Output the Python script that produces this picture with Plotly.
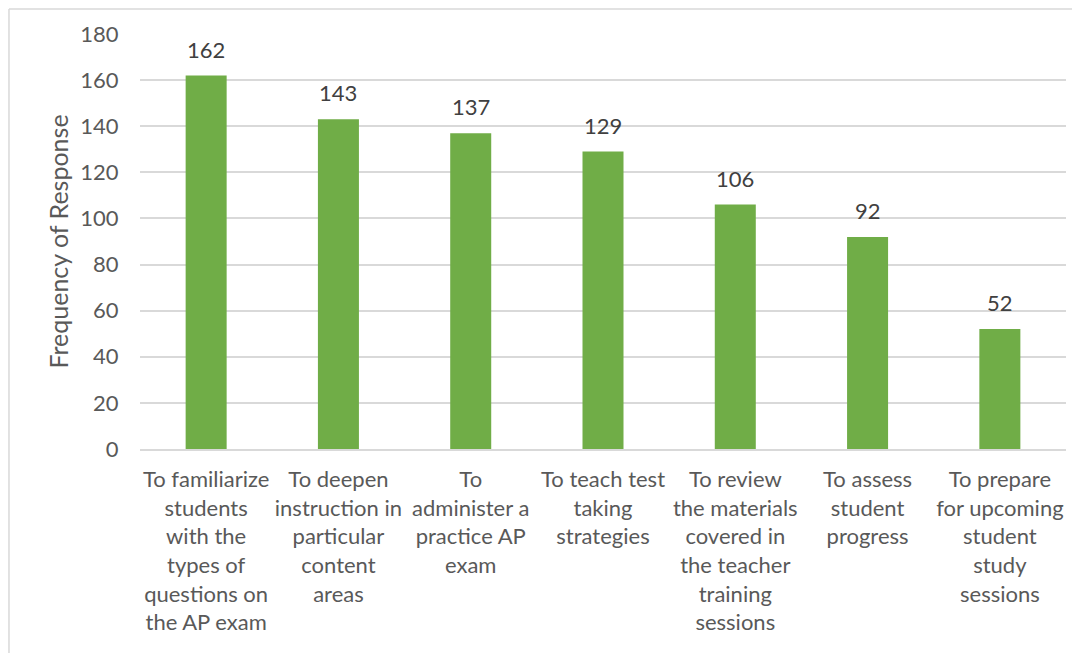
import plotly.graph_objects as go

categories = [
    "To familiarize<br>students<br>with the<br>types of<br>questions on<br>the AP exam",
    "To deepen<br>instruction in<br>particular<br>content<br>areas",
    "To<br>administer a<br>practice AP<br>exam",
    "To teach test<br>taking<br>strategies",
    "To review<br>the materials<br>covered in<br>the teacher<br>training<br>sessions",
    "To assess<br>student<br>progress",
    "To prepare<br>for upcoming<br>student<br>study<br>sessions",
]
values = [162, 143, 137, 129, 106, 92, 52]
y_ticks = [0, 20, 40, 60, 80, 100, 120, 140, 160, 180]

FONT = "Lato, 'Open Sans', sans-serif"

fig = go.Figure(go.Bar(
    x=categories, y=values,
    marker=dict(color="#70AD47", line=dict(width=0)),
))

for c, v in zip(categories, values):
    fig.add_annotation(x=c, y=v, text=str(v), showarrow=False, yanchor="bottom",
                       yshift=11, font=dict(size=22, color="#404040", family=FONT))

fig.update_layout(
    width=1072, height=645,
    margin=dict(l=132, r=14, t=26, b=204, autoexpand=False),
    paper_bgcolor="white", plot_bgcolor="white",
    bargap=0.69,
    showlegend=False,
    font=dict(family=FONT, color="#595959", size=22),
    xaxis=dict(tickfont=dict(size=22, color="#595959"), tickangle=0, automargin=False,
               showline=True, linecolor="#D9D9D9", linewidth=1.5,
               ticks="outside", ticklen=10, tickcolor="rgba(0,0,0,0)"),
    yaxis=dict(range=[0, 180], tickvals=y_ticks, showgrid=True, automargin=False,
               gridcolor="#D9D9D9", gridwidth=1.5, zeroline=False,
               tickfont=dict(size=22, color="#595959"),
               ticks="outside", ticklen=16, tickcolor="rgba(0,0,0,0)",
               title=dict(text="Frequency of Response", font=dict(size=25, color="#595959"), standoff=4)),
    shapes=[
        dict(type="line", xref="paper", yref="paper", x0=-0.1415, x1=1.02, y0=1.0602, y1=1.0602,
             line=dict(color="#D9D9D9", width=1.5)),
        dict(type="line", xref="paper", yref="paper", x0=-0.1415, x1=-0.1415, y0=1.0602, y1=-0.5,
             line=dict(color="#D9D9D9", width=1.5)),
    ],
)

fig.write_html("out.html")
